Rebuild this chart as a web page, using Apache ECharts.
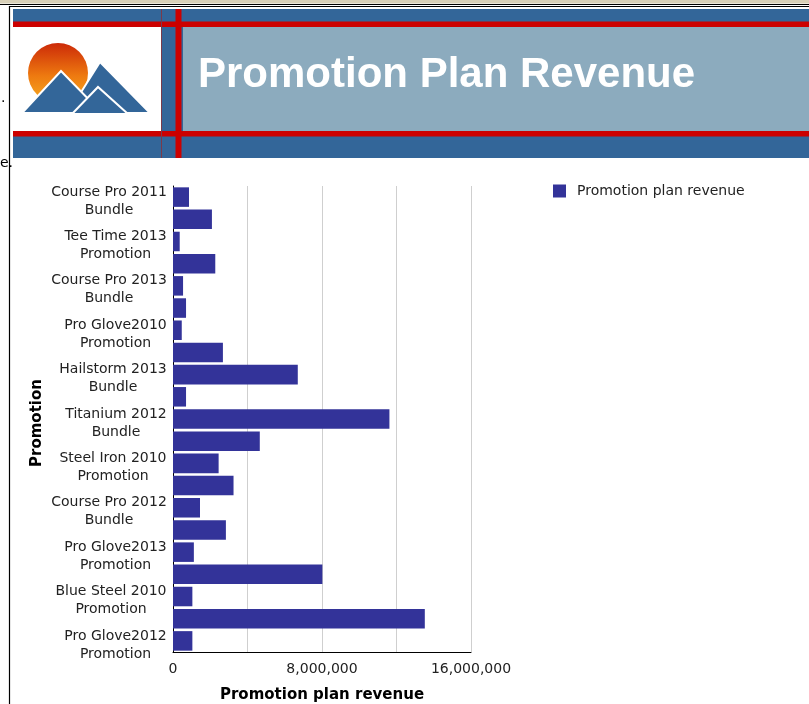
<!DOCTYPE html>
<html>
<head>
<meta charset="utf-8">
<title>Promotion Plan Revenue</title>
<script src="https://cdn.jsdelivr.net/npm/echarts@6/dist/echarts.min.js"></script>
<style>
  html, body { margin: 0; padding: 0; background: #ffffff; }
  #chart { width: 809px; height: 704px; }
</style>
</head>
<body>
<div id="chart"></div>
<script>
// Promotions, top to bottom
const promotions = [
  'Course Pro 2011 Bundle',
  'Tee Time 2012 Promotion',
  'Tee Time 2013 Promotion',
  'Course Pro 2010 Bundle',
  'Course Pro 2013 Bundle',
  'Pro Glove2011 Promotion',
  'Pro Glove2010 Promotion',
  'Hailstorm 2012 Bundle',
  'Hailstorm 2013 Bundle',
  'Tee Time 2010 Promotion',
  'Titanium 2012 Bundle',
  'Titanium 2011 Bundle',
  'Steel Iron 2010 Promotion',
  'Steel Iron 2011 Promotion',
  'Course Pro 2012 Bundle',
  'Tee Time 2011 Promotion',
  'Pro Glove2013 Promotion',
  'Blue Steel 2011 Promotion',
  'Blue Steel 2010 Promotion',
  'Titanium 2013 Bundle',
  'Pro Glove2012 Promotion'
];

// Promotion plan revenue per promotion
const revenue = [
  860000, 2090000, 360000, 2270000, 540000, 700000, 470000,
  2680000, 6700000, 700000, 11620000, 4660000, 2450000, 3250000,
  1450000, 2840000, 1120000, 8020000, 1040000, 13520000, 1040000
];

// Value axis range and labelled ticks
const axisMax = 16000000;
const gridStep = 4000000;
const labelledTicks = [0, 8000000, 16000000];

const seriesName = 'Promotion plan revenue';
const chartTitle = 'Promotion Plan Revenue';

const labelFont = '"DejaVu Sans", Verdana, sans-serif';
const barColor = '#333399';
const navy = '#336699';
const red = '#cc0000';
const slate = '#8cabbe';

// Two-line category labels: last word on the second line, lines centred in a block
const measureCtx = document.createElement('canvas').getContext('2d');
measureCtx.font = '14px ' + labelFont;
function splitLabel(name) {
  const i = name.lastIndexOf(' ');
  return [name.slice(0, i), name.slice(i + 1)];
}
const labelRich = {};
promotions.forEach(function (name, idx) {
  const lines = splitLabel(name);
  const w = Math.ceil(Math.max(measureCtx.measureText(lines[0]).width,
                               measureCtx.measureText(lines[1]).width));
  labelRich['c' + idx] = { width: w, align: 'center', fontSize: 14, lineHeight: 18,
                           fontFamily: labelFont, color: '#222' };
});

function fmtNumber(v) {
  return String(v).replace(/\B(?=(\d{3})+(?!\d))/g, ',');
}

const chart = echarts.init(document.getElementById('chart'), null, { renderer: 'canvas' });

// Banner with logo
const banner = [
  { type: 'rect', shape: { x: 0, y: 0, width: 809, height: 3.5 }, style: { fill: '#d8d0b8' }, z: 1 },
  { type: 'line', shape: { x1: 0, y1: 4.5, x2: 809, y2: 4.5 }, style: { stroke: '#000', lineWidth: 1.2 }, z: 2 },
  { type: 'line', shape: { x1: 9.5, y1: 6.5, x2: 809, y2: 6.5 }, style: { stroke: '#000', lineWidth: 1.2 }, z: 2 },
  { type: 'line', shape: { x1: 9.5, y1: 6, x2: 9.5, y2: 704 }, style: { stroke: '#000', lineWidth: 1.2 }, z: 2 },
  { type: 'text', style: { x: 1, y: 98, text: '.', font: '14px "DejaVu Sans"', fill: '#000', verticalAlign: 'middle' }, z: 2 },
  { type: 'text', style: { x: 0, y: 163, text: 'e.', font: '14px "DejaVu Sans"', fill: '#000', verticalAlign: 'middle' }, z: 2 },

  { type: 'rect', shape: { x: 13, y: 9, width: 796, height: 149 }, style: { fill: navy }, z: 1 },
  { type: 'rect', shape: { x: 183, y: 27, width: 626, height: 104 }, style: { fill: slate }, z: 2 },
  { type: 'rect', shape: { x: 13, y: 27, width: 148, height: 104 }, style: { fill: '#ffffff' }, z: 2 },
  { type: 'rect', shape: { x: 13, y: 21.5, width: 796, height: 5.5 }, style: { fill: red }, z: 3 },
  { type: 'rect', shape: { x: 13, y: 131, width: 796, height: 5.5 }, style: { fill: red }, z: 3 },
  { type: 'rect', shape: { x: 175.5, y: 9, width: 6, height: 149 }, style: { fill: red }, z: 3 },
  { type: 'line', shape: { x1: 161.5, y1: 9, x2: 161.5, y2: 158 }, style: { stroke: '#7a3a4a', lineWidth: 1 }, z: 3 },

  // sun
  { type: 'circle', shape: { cx: 58, cy: 73, r: 30 },
    style: { fill: new echarts.graphic.LinearGradient(0, 0, 0, 1, [
      { offset: 0, color: '#cc2a08' }, { offset: 0.55, color: '#ee7a10' }, { offset: 1, color: '#f7ab20' }
    ]) }, z: 4 },
  // mountains
  { type: 'polygon', shape: { points: [[68, 113], [100, 62], [150, 113]] },
    style: { fill: navy, stroke: '#ffffff', lineWidth: 2, lineJoin: 'miter' }, z: 5 },
  { type: 'polygon', shape: { points: [[22, 113], [61, 71], [102, 113]] },
    style: { fill: navy, stroke: '#ffffff', lineWidth: 2, lineJoin: 'miter' }, z: 6 },
  { type: 'polygon', shape: { points: [[72, 114], [98, 87], [128, 114]] },
    style: { fill: navy, stroke: '#ffffff', lineWidth: 2, lineJoin: 'miter' }, z: 7 },
  { type: 'rect', shape: { x: 14, y: 113.5, width: 146, height: 17 }, style: { fill: '#ffffff' }, z: 8 },

  { type: 'text', style: { x: 198, y: 75, text: chartTitle, fill: '#ffffff',
      font: 'bold 42px "Liberation Sans", Arial, sans-serif', verticalAlign: 'middle' }, z: 9 }
];

const option = {
  animation: false,
  backgroundColor: '#ffffff',
  graphic: banner,
  grid: { left: 173, right: 338, top: 186, bottom: 52, containLabel: false, outerBoundsMode: 'none' },
  legend: {
    left: 553, top: 184, padding: 0,
    itemWidth: 13, itemHeight: 13, icon: 'rect',
    textStyle: { fontFamily: labelFont, fontSize: 14, color: '#222', padding: [0, 0, 0, 6] },
    data: [seriesName]
  },
  xAxis: {
    type: 'value',
    min: 0, max: axisMax, interval: gridStep,
    name: seriesName,
    nameLocation: 'middle',
    nameGap: 36,
    nameTextStyle: { fontFamily: labelFont, fontSize: 15, fontWeight: 'bold', color: '#000' },
    axisLine: { show: true, lineStyle: { color: '#000', width: 1 } },
    axisTick: { show: false },
    splitLine: { show: true, lineStyle: { color: '#cfcfcf', width: 1 } },
    axisLabel: {
      margin: 10,
      fontFamily: labelFont, fontSize: 14, color: '#222',
      formatter: function (v) { return labelledTicks.indexOf(v) >= 0 ? fmtNumber(v) : ''; }
    }
  },
  yAxis: {
    type: 'category',
    inverse: true,
    data: promotions,
    name: 'Promotion',
    nameLocation: 'middle',
    nameGap: 128,
    nameRotate: 90,
    nameTextStyle: { fontFamily: labelFont, fontSize: 15, fontWeight: 'bold', color: '#000',
                     padding: [0, 8, 0, 0] },
    axisLine: { show: true, lineStyle: { color: '#000', width: 1 } },
    axisTick: { show: false },
    splitLine: { show: false },
    axisLabel: {
      interval: 1,
      margin: 6,
      padding: [8, 0, 0, 0],
      formatter: function (name, idx) {
        const lines = splitLabel(name);
        return '{c' + idx + '|' + lines[0] + '}\n{c' + idx + '|' + lines[1] + '}';
      },
      rich: labelRich
    }
  },
  series: [{
    name: seriesName,
    type: 'bar',
    data: revenue,
    barCategoryGap: '12%',
    itemStyle: { color: barColor }
  }]
};

chart.setOption(option);
</script>
</body>
</html>
